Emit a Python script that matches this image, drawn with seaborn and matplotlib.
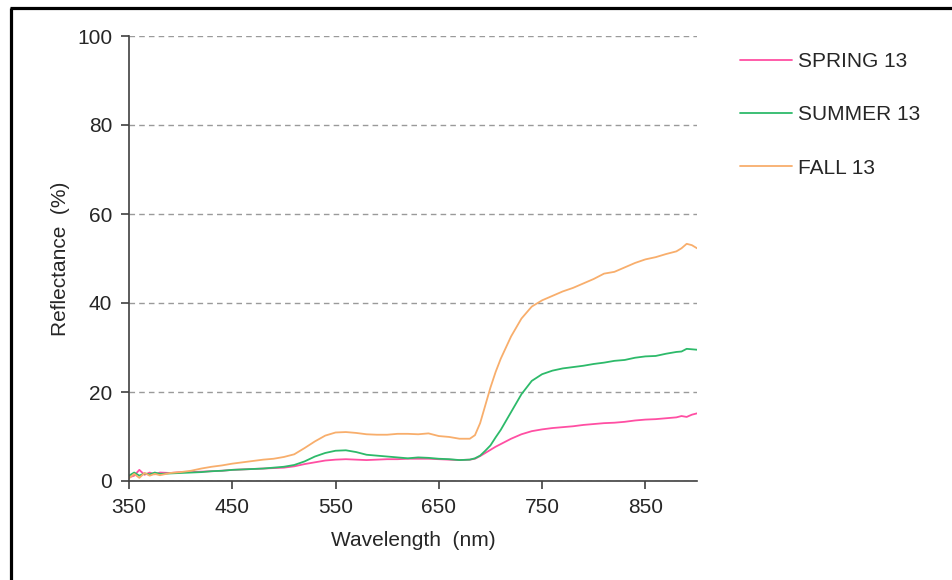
import numpy as np
import pandas as pd
import matplotlib
matplotlib.use("Agg")
import matplotlib.pyplot as plt
import seaborn as sns
from matplotlib.lines import Line2D

wavelength = [350, 355, 360, 365, 370, 375, 380, 390, 400, 410, 420, 430, 440, 450, 460, 470, 480,
              490, 500, 510, 520, 530, 540, 550, 560, 570, 580, 590, 600, 610, 620, 630, 640,
              650, 660, 670, 680, 685, 690, 695, 700, 705, 710, 720, 730, 740, 750, 760, 770,
              780, 790, 800, 810, 820, 830, 840, 850, 860, 870, 880, 885, 890, 895, 900]

spring = [0.8, 1.2, 2.5, 1.4, 1.9, 1.5, 1.9, 1.8, 2.0, 2.0, 2.1, 2.2, 2.3, 2.5, 2.6, 2.7, 2.8,
          2.9, 3.0, 3.3, 3.8, 4.2, 4.6, 4.8, 4.9, 4.8, 4.7, 4.8, 4.9, 4.9, 5.0, 5.0, 5.0,
          4.9, 4.8, 4.7, 4.8, 5.0, 5.6, 6.3, 7.0, 7.7, 8.3, 9.5, 10.5, 11.2, 11.6, 11.9, 12.1,
          12.3, 12.6, 12.8, 13.0, 13.1, 13.3, 13.6, 13.8, 13.9, 14.1, 14.3, 14.6, 14.4, 14.9, 15.2]

summer = [1.2, 1.9, 1.2, 1.7, 1.5, 1.9, 1.6, 1.7, 1.8, 1.9, 2.0, 2.2, 2.3, 2.5, 2.6, 2.7, 2.8,
          3.0, 3.2, 3.6, 4.4, 5.5, 6.3, 6.8, 6.9, 6.5, 5.9, 5.7, 5.5, 5.3, 5.1, 5.3, 5.2,
          5.0, 4.9, 4.7, 4.8, 5.1, 5.7, 6.8, 8.0, 9.8, 11.5, 15.5, 19.5, 22.5, 24.0, 24.8, 25.3,
          25.6, 25.9, 26.3, 26.6, 27.0, 27.2, 27.7, 28.0, 28.1, 28.6, 29.0, 29.1, 29.7, 29.6, 29.5]

fall = [0.6, 1.6, 0.7, 1.8, 1.2, 1.6, 1.3, 1.8, 2.0, 2.3, 2.8, 3.2, 3.5, 3.9, 4.2, 4.5, 4.8,
        5.0, 5.4, 6.0, 7.4, 8.9, 10.2, 10.9, 11.0, 10.8, 10.5, 10.4, 10.4, 10.6, 10.6, 10.5, 10.7,
        10.1, 9.9, 9.5, 9.5, 10.3, 13.0, 17.0, 21.0, 24.5, 27.5, 32.5, 36.5, 39.2, 40.6, 41.6, 42.6,
        43.4, 44.4, 45.4, 46.6, 47.0, 48.0, 49.0, 49.8, 50.3, 51.0, 51.6, 52.3, 53.3, 53.0, 52.3]

series_names = ["SPRING 13", "SUMMER 13", "FALL 13"]
colors = ["#FF4FA3", "#2DBA6A", "#F8AE6C"]

df = pd.concat([
    pd.DataFrame({"Wavelength": wavelength, "Reflectance": vals, "Series": name})
    for name, vals in zip(series_names, [spring, summer, fall])
])

sns.set_theme(style="white")
plt.rcParams["font.family"] = ["Liberation Sans", "DejaVu Sans"]

fig = plt.figure(figsize=(9.53, 5.80), dpi=100)
ax = fig.add_axes([129/953, 1-481/580, (697-129)/953, (481-36)/580])

sns.lineplot(data=df, x="Wavelength", y="Reflectance", hue="Series",
             palette=dict(zip(series_names, colors)), linewidth=1.3, ax=ax)

ax.set_xlim(350, 900)
ax.set_ylim(0, 100)
ax.set_xticks([350, 450, 550, 650, 750, 850])
ax.set_yticks([0, 20, 40, 60, 80, 100])
ax.yaxis.grid(True, linestyle=(0, (4, 3)), color="#9a9a9a", linewidth=1.0)
ax.set_axisbelow(True)

for s in ["top", "right"]:
    ax.spines[s].set_visible(False)
for s in ["left", "bottom"]:
    ax.spines[s].set_color("#404040")
    ax.spines[s].set_linewidth(1.2)

ax.tick_params(axis="both", which="both", direction="out", length=6, width=1.2,
               color="#404040", labelsize=15, labelcolor="#262626", pad=6,
               left=True, bottom=True)
ax.set_xlabel("Wavelength  (nm)", fontsize=15, color="#262626", labelpad=10)
ax.set_ylabel("Reflectance  (%)", fontsize=15, color="#262626", labelpad=5)

leg = ax.legend(loc="upper left", bbox_to_anchor=(732/953, 1-44/580),
                bbox_transform=fig.transFigure, frameon=False, fontsize=15,
                handlelength=2.5, handletextpad=0.25, labelspacing=1.64,
                borderaxespad=0)
for t in leg.get_texts():
    t.set_color("#262626")

# figure frame (top and left edges)
fig.add_artist(Line2D([10/953, 1.0], [1-7.5/580, 1-7.5/580], color="black",
                      linewidth=2.3, solid_capstyle="butt", transform=fig.transFigure))
fig.add_artist(Line2D([11/953, 11/953], [0, 1-7.5/580], color="black",
                      linewidth=2.3, solid_capstyle="butt", transform=fig.transFigure))

fig.savefig("out.png", dpi=100)
